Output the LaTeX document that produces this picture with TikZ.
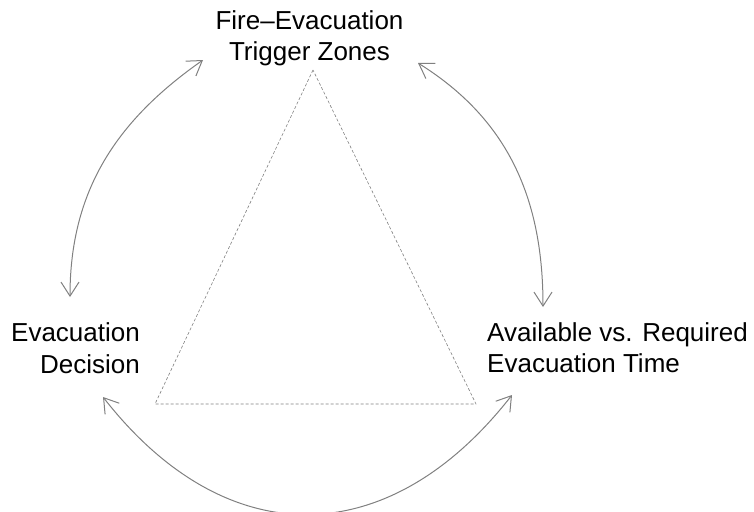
\documentclass[tikz,border=0pt]{standalone}
\usepackage{fontspec}
\setmainfont{Liberation Sans}
\usetikzlibrary{arrows.meta}
\begin{document}
\begin{tikzpicture}[x=1pt,y=-1pt,
  lbl/.style={inner sep=0pt,font=\fontsize{26}{31.5}\selectfont},
  link/.style={draw=black!50,line width=1pt,{Straight Barb[length=14pt,width=18pt]}-{Straight Barb[length=14pt,width=18pt]}},
  tri/.style={draw=black!50,line width=0.6pt,dash pattern=on 3pt off 2pt}]
\useasboundingbox (0,0) rectangle (754,511);
\coordinate (T) at (313,70);
\coordinate (L) at (155,404);
\coordinate (R) at (476,404);
\draw[tri] (T) -- (L) -- (R) -- cycle;
\node[lbl,align=center,anchor=base] (top) at (309.5,60.5) {Fire–Evacuation\\Trigger Zones};
\node[lbl,align=right,anchor=base east] (left) at (140,373) {Evacuation\\Decision};
\node[lbl,align=left,anchor=base west] (right) at (487,372.5) {Available vs. Required\\Evacuation Time};
\coordinate (a1) at (70,297);
\coordinate (a2) at (203,60);
\coordinate (b1) at (418,63);
\coordinate (b2) at (543,307);
\coordinate (c1) at (103,397);
\coordinate (c2) at (512,395);
\draw[link] (a1) to[out=90,in=215] (a2);
\draw[link] (b1) to[out=-32,in=90] (b2);
\draw[link] (c1) to[out=-52,in=-128,looseness=1.25] (c2);
\end{tikzpicture}
\end{document}
